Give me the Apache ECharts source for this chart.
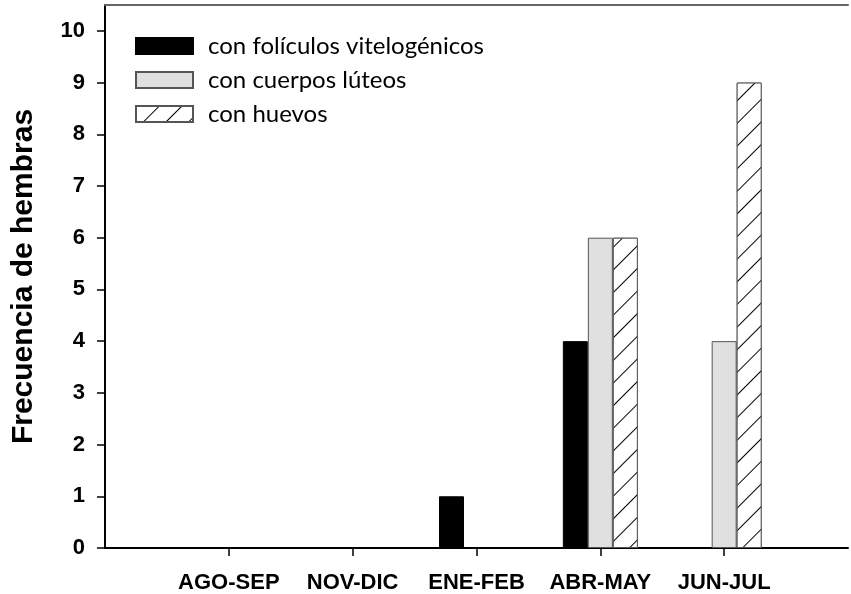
<!DOCTYPE html>
<html>
<head>
<meta charset="utf-8">
<script src="https://cdn.jsdelivr.net/npm/echarts@6/dist/echarts.min.js"></script>
<style>
html,body{margin:0;padding:0;background:#fff;}
#chart{width:851px;height:594px;}
</style>
</head>
<body>
<div id="chart"></div>
<script>
// Data
var categories = ['', 'AGO-SEP', 'NOV-DIC', 'ENE-FEB', 'ABR-MAY', 'JUN-JUL', ''];
var seriesNames = ['con folículos vitelogénicos', 'con cuerpos lúteos', 'con huevos'];
var foliculos = [null, 0, 0, 1, 4, 0, null];
var cuerpos   = [null, 0, 0, 0, 6, 4, null];
var huevos    = [null, 0, 0, 0, 6, 9, null];
var yTicks = [0, 1, 2, 3, 4, 5, 6, 7, 8, 9, 10];

function toBars(arr) {
  return arr.map(function (v) { return (v === null || v === 0) ? '-' : v; });
}

var chart = echarts.init(document.getElementById('chart'), null, {renderer: 'canvas'});
var boldFont = 'Arial, "Liberation Sans", sans-serif';

var option = {
  backgroundColor: '#ffffff',
  animation: false,
  grid: {left: 105, width: 756, top: 5, bottom: 46, containLabel: false},
  legend: {
    orient: 'vertical',
    left: 135,
    top: 34,
    padding: 0,
    itemWidth: 57,
    itemHeight: 16,
    itemGap: 10,
    icon: 'rect',
    textStyle: {fontFamily: 'Lato, sans-serif', fontSize: 24, color: '#000', lineHeight: 16, padding: [0, 0, 0, 10]},
    data: seriesNames
  },
  xAxis: [{
    type: 'category',
    data: categories,
    boundaryGap: false,
    axisLine: {lineStyle: {color: '#000', width: 2}},
    axisTick: {
      show: true, inside: false, length: 8,
      lineStyle: {color: '#000', width: 1.5},
      interval: function (index) { return index >= 1 && index <= 5; }
    },
    axisLabel: {
      interval: 0, margin: 24,
      fontFamily: boldFont, fontWeight: 'bold', fontSize: 22, color: '#000'
    },
    splitLine: {show: false}
  }, {
    type: 'category',
    data: categories,
    boundaryGap: false,
    position: 'top',
    axisLine: {lineStyle: {color: '#666', width: 2}},
    axisTick: {show: false},
    axisLabel: {show: false},
    splitLine: {show: false}
  }],
  yAxis: {
    type: 'value',
    min: 0, max: 10.5, interval: 1,
    name: 'Frecuencia de hembras',
    nameLocation: 'middle',
    nameRotate: 90,
    nameGap: 66,
    nameTextStyle: {fontFamily: boldFont, fontWeight: 'bold', fontSize: 30, color: '#000'},
    axisLine: {show: true, lineStyle: {color: '#000', width: 2}},
    axisTick: {show: true, inside: false, length: 8, lineStyle: {color: '#000', width: 1.5}, customValues: yTicks},
    axisLabel: {
      margin: 20, customValues: yTicks,
      fontFamily: boldFont, fontWeight: 'bold', fontSize: 22, color: '#000'
    },
    splitLine: {show: false}
  },
  series: [{
    name: seriesNames[0], type: 'bar', barWidth: 25, barGap: '0%',
    itemStyle: {color: '#000000', borderColor: '#000000', borderWidth: 1},
    data: toBars(foliculos)
  }, {
    name: seriesNames[1], type: 'bar', barWidth: 25, barGap: '0%',
    itemStyle: {color: '#e0e0e0', borderColor: '#555555', borderWidth: 1},
    data: toBars(cuerpos)
  }, {
    name: seriesNames[2], type: 'bar', barWidth: 25, barGap: '0%',
    itemStyle: {
      color: '#ffffff', borderColor: '#555555', borderWidth: 1,
      decal: {
        symbol: 'rect', symbolSize: 1, color: '#000000',
        backgroundColor: '#ffffff',
        dashArrayX: [1, 0], dashArrayY: [1, 15],
        rotation: -Math.PI / 4
      }
    },
    data: toBars(huevos)
  }]
};
chart.setOption(option);
</script>
</body>
</html>
